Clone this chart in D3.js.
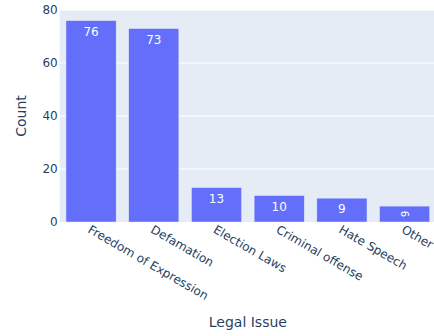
<!DOCTYPE html>
<html><head><meta charset="utf-8">
<script src="https://cdn.jsdelivr.net/npm/d3@7"></script>
<style>body{margin:0;background:#fff}svg{display:block;font-family:"DejaVu Sans",verdana,sans-serif}</style>
</head><body>
<script>
const categories = ["Freedom of Expression","Defamation","Election Laws","Criminal offense","Hate Speech","Other"];
const counts = [76, 73, 13, 10, 9, 6];
const yTicks = [0, 20, 40, 60, 80];
const xTitle = "Legal Issue";
const yTitle = "Count";

const FONT = "DejaVu Sans, verdana, sans-serif";
const W = 434, H = 336;
const m = {l: 59.7, t: 10, r: -2, b: 114};
const svg = d3.select("body").append("svg").attr("width", W).attr("height", H);
const pw = W - m.l - m.r, ph = H - m.t - m.b;
const x = d3.scaleBand().domain(categories).range([m.l, m.l + pw]).paddingInner(0.2).paddingOuter(0.1);
const y = d3.scaleLinear().domain([0, 80]).range([m.t + ph, m.t]);

svg.append("rect").attr("x", m.l).attr("y", m.t).attr("width", pw).attr("height", ph).attr("fill", "#E5ECF6");
svg.append("g").selectAll("line").data(yTicks.filter(d => d > 0)).join("line")
  .attr("x1", m.l).attr("x2", m.l + pw).attr("y1", d => y(d)).attr("y2", d => y(d))
  .attr("stroke", "#fff").attr("stroke-width", 1);

const bars = svg.append("g").selectAll("g").data(categories).join("g");
bars.append("rect")
  .attr("x", d => x(d)).attr("width", x.bandwidth())
  .attr("y", (d, i) => y(counts[i])).attr("height", (d, i) => y(0) - y(counts[i]))
  .attr("fill", "#636EFA").attr("stroke", "#E5ECF6").attr("stroke-width", 0.5);
bars.each(function(d, i) {
  const g = d3.select(this);
  const cx = x(d) + x.bandwidth() / 2;
  const h = y(0) - y(counts[i]);
  if (h > 18) {
    g.append("text").attr("x", cx).attr("y", y(counts[i]) + 15).attr("text-anchor", "middle")
      .attr("fill", "#fff").attr("font-size", 12).text(counts[i]);
  } else {
    g.append("text").attr("transform", `translate(${cx},${y(counts[i]) + h / 2}) rotate(90)`)
      .attr("text-anchor", "middle").attr("dy", "0.35em")
      .attr("fill", "#fff").attr("font-size", 10).text(counts[i]);
  }
});

// y axis
const ya = svg.append("g").attr("transform", `translate(${m.l},0)`)
  .call(d3.axisLeft(y).tickValues(yTicks).tickSize(0).tickPadding(2));
ya.select(".domain").remove();
ya.selectAll("text").attr("fill", "#2a3f5f").attr("font-size", 12).attr("font-family", FONT);

// x axis
const xa = svg.append("g").attr("transform", `translate(0,${y(0)})`)
  .call(d3.axisBottom(x).tickSize(0).tickPadding(0));
xa.select(".domain").remove();
xa.selectAll("text").attr("fill", "#2a3f5f").attr("font-size", 12).attr("font-family", FONT)
  .attr("text-anchor", "start").attr("dy", null).attr("y", 0)
  .attr("transform", "translate(-4,10) rotate(30)");

svg.append("text").attr("x", m.l + pw / 2).attr("y", 327).attr("text-anchor", "middle")
  .attr("fill", "#2a3f5f").attr("font-size", 14).attr("font-family", FONT).text(xTitle);
svg.append("text").attr("transform", `translate(26,${m.t + ph / 2}) rotate(-90)`).attr("text-anchor", "middle")
  .attr("fill", "#2a3f5f").attr("font-size", 14).attr("font-family", FONT).text(yTitle);
</script>
</body></html>
